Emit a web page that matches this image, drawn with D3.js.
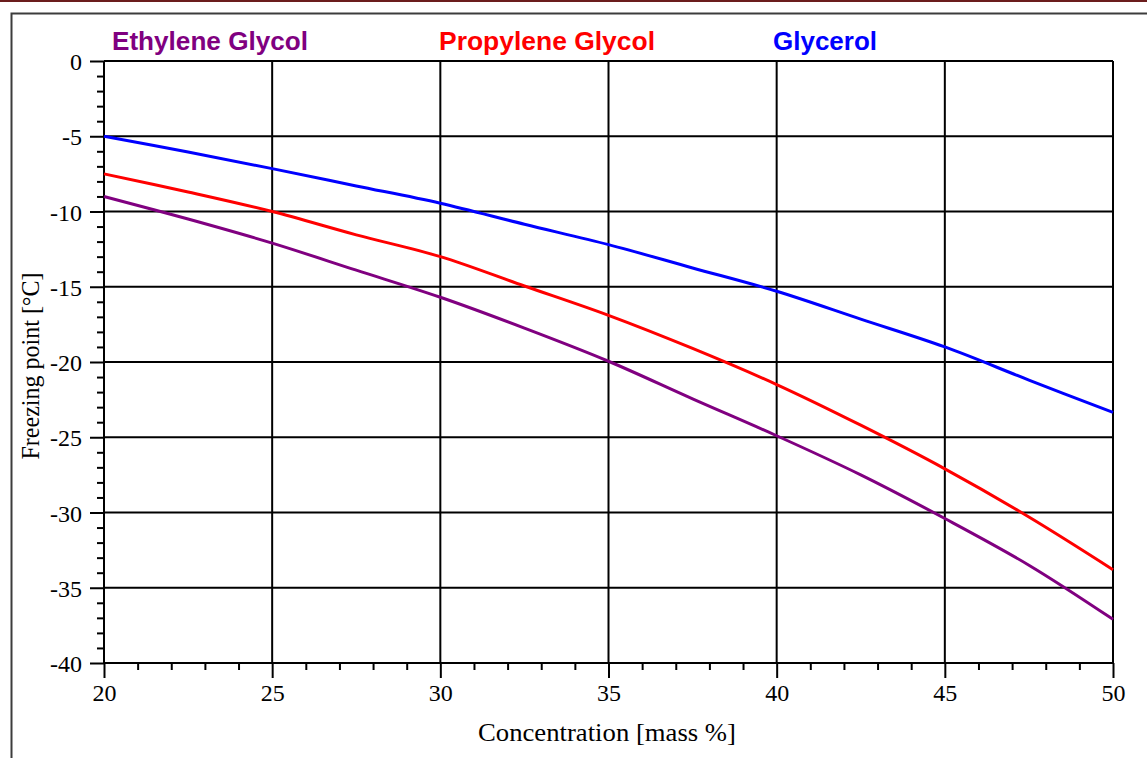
<!DOCTYPE html>
<html>
<head>
<meta charset="utf-8">
<script src="https://cdn.jsdelivr.net/npm/d3@7"></script>
<style>
  html, body { margin: 0; padding: 0; background: #fff; }
  svg { display: block; }
</style>
</head>
<body>
<script>
// ---- data ----
const concentration = [20, 22.5, 25, 27.5, 30, 32.5, 35, 37.5, 40, 42.5, 45, 47.5, 50];
const ethyleneGlycol = [-9.0, -10.5, -12.1, -13.9, -15.7, -17.75, -19.95, -22.45, -24.9, -27.5, -30.4, -33.5, -37.1];
const propyleneGlycol = [-7.5, -8.7, -10.0, -11.55, -13.0, -14.95, -16.9, -19.1, -21.5, -24.2, -27.1, -30.3, -33.8];
const glycerol = [-5.0, -6.05, -7.15, -8.3, -9.45, -10.85, -12.2, -13.75, -15.3, -17.15, -19.0, -21.2, -23.35];
const seriesNames = ["Ethylene Glycol", "Propylene Glycol", "Glycerol"];
const seriesColors = ["#800080", "#ff0000", "#0000ff"];
const xTicks = [20, 25, 30, 35, 40, 45, 50];
const yTicks = [0, -5, -10, -15, -20, -25, -30, -35, -40];
const xTitle = "Concentration [mass %]";
const yTitle = "Freezing point [°C]";

(function () {
// ---- layout ----
const W = 1147, H = 758;
const pLeft = 104, pRight = 1113, pTop = 61, pBottom = 663;

const svg = d3.select("body").append("svg").attr("width", W).attr("height", H);
svg.append("rect").attr("width", W).attr("height", H).attr("fill", "#fff");

// page decorations
svg.append("rect").attr("x", 0).attr("y", 0).attr("width", W).attr("height", 2).attr("fill", "#6b1d1d");
svg.append("path").attr("d", `M11.5,${H} V13.5 H${W}`).attr("fill", "none").attr("stroke", "#3c3c3c").attr("stroke-width", 2);

const x = d3.scaleLinear().domain([20, 50]).range([pLeft, pRight]);
const y = d3.scaleLinear().domain([0, -40]).range([pTop, pBottom]);

// grid
const grid = svg.append("g");
grid.selectAll("line.v").data(xTicks.slice(1)).join("line").attr("class", "v")
  .attr("x1", d => x(d)).attr("x2", d => x(d))
  .attr("y1", pTop).attr("y2", pBottom)
  .attr("stroke", "#000").attr("stroke-width", 2);
grid.selectAll("line.h").data(yTicks.slice(0, -1)).join("line").attr("class", "h")
  .attr("x1", pLeft).attr("x2", pRight)
  .attr("y1", d => y(d)).attr("y2", d => y(d))
  .attr("stroke", "#000").attr("stroke-width", 2);

// minor ticks
const yMinor = d3.range(0, -40.5, -1).filter(v => v % 5 !== 0);
const xMinor = d3.range(20, 50.5, 1).filter(v => v % 5 !== 0);
svg.append("g").attr("transform", `translate(${pLeft},0)`)
  .call(d3.axisLeft(y).tickValues(yMinor).tickSize(7).tickFormat(""))
  .call(g => g.select(".domain").remove());
svg.append("g").attr("transform", `translate(0,${pBottom})`)
  .call(d3.axisBottom(x).tickValues(xMinor).tickSize(7).tickFormat(""))
  .call(g => g.select(".domain").remove());

// major axes
const fmt = d => String(d);
const yAxis = svg.append("g").attr("transform", `translate(${pLeft},0)`)
  .call(d3.axisLeft(y).tickValues(yTicks).tickSize(14).tickPadding(8).tickFormat(fmt));
const xAxis = svg.append("g").attr("transform", `translate(0,${pBottom})`)
  .call(d3.axisBottom(x).tickValues(xTicks).tickSize(15).tickPadding(6).tickFormat(fmt));
[yAxis, xAxis].forEach(a => {
  a.select(".domain").remove();
  a.selectAll("text").attr("font-family", "'Liberation Serif', 'Times New Roman', serif")
    .attr("font-size", 24).attr("fill", "#000");
});
svg.selectAll("g.tick line").attr("stroke", "#000").attr("stroke-width", 2);
yAxis.selectAll("text").attr("dy", "0.36em");

// axis lines
svg.append("line").attr("x1", pLeft).attr("x2", pLeft).attr("y1", pTop).attr("y2", pBottom)
  .attr("stroke", "#000").attr("stroke-width", 2);
svg.append("line").attr("x1", pLeft).attr("x2", pRight).attr("y1", pBottom).attr("y2", pBottom)
  .attr("stroke", "#000").attr("stroke-width", 2);

// curves
const seriesData = [ethyleneGlycol, propyleneGlycol, glycerol];
const line = d3.line().x(d => x(d[0])).y(d => y(d[1])).curve(d3.curveCatmullRom.alpha(0.5));
seriesData.forEach((vals, i) => {
  svg.append("path")
    .datum(concentration.map((c, j) => [c, vals[j]]))
    .attr("d", line)
    .attr("fill", "none")
    .attr("stroke", seriesColors[i])
    .attr("stroke-width", 3)
    .attr("stroke-linejoin", "round");
});

// legend
const legendX = [112, 439, 773];
const legendW = [196, 216, 104];
seriesNames.forEach((n, i) => {
  svg.append("text").attr("x", legendX[i]).attr("y", 50)
    .attr("font-family", "'Liberation Sans', Arial, sans-serif")
    .attr("font-weight", "bold").attr("font-size", 26)
    .attr("fill", seriesColors[i])
    .attr("textLength", legendW[i]).attr("lengthAdjust", "spacingAndGlyphs")
    .text(n);
});

// axis titles
svg.append("text").attr("x", 607).attr("y", 741).attr("text-anchor", "middle")
  .attr("font-family", "'Liberation Serif', 'Times New Roman', serif").attr("font-size", 25)
  .attr("textLength", 258).attr("lengthAdjust", "spacingAndGlyphs")
  .text(xTitle);
svg.append("text").attr("transform", "translate(39,366) rotate(-90)").attr("text-anchor", "middle")
  .attr("font-family", "'Liberation Serif', 'Times New Roman', serif").attr("font-size", 25)
  .attr("textLength", 187).attr("lengthAdjust", "spacingAndGlyphs")
  .text(yTitle);
})();
</script>
</body>
</html>
